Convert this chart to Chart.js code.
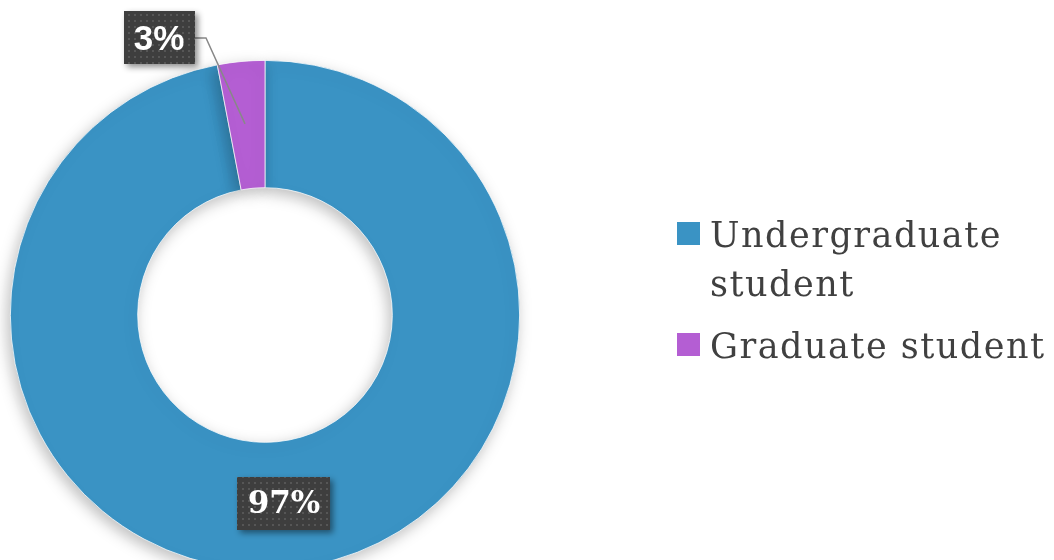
<!DOCTYPE html>
<html>
<head>
<meta charset="utf-8">
<script src="https://cdn.jsdelivr.net/npm/chart.js@4/dist/chart.umd.min.js"></script>
<style>
  html, body { margin: 0; padding: 0; background: #fff; overflow: hidden; }
  #wrap { position: relative; width: 1054px; height: 560px; overflow: hidden; }
  #chart { position: absolute; left: 0; top: 0; }
</style>
</head>
<body>
<div id="wrap"><canvas id="chart" width="1054" height="620"></canvas></div>
<script>
// student type breakdown
const categories = ['Undergraduate student', 'Graduate student'];
const shares = [97, 3];
const sliceColors = ['#3A93C4', '#B45ED3'];

// dark dotted fill for the value boxes
function dotPattern(ctx) {
    const c = document.createElement('canvas');
    c.width = 6; c.height = 6;
    const g = c.getContext('2d');
    g.fillStyle = '#3e3e3e';
    g.fillRect(0, 0, 6, 6);
    g.fillStyle = '#565656';
    g.fillRect(2, 2, 2, 2);
    return ctx.createPattern(c, 'repeat');
}

// soft shadow under the ring
const ringShadow = {
    id: 'ringShadow',
    beforeDatasetsDraw(chart) {
        const ctx = chart.ctx;
        ctx.save();
        ctx.shadowColor = 'rgba(0,0,0,0.26)';
        ctx.shadowBlur = 15;
        ctx.shadowOffsetX = -3;
        ctx.shadowOffsetY = 5;
    },
    afterDatasetsDraw(chart) {
        chart.ctx.restore();
    }
};

// percentage boxes (+ leader line for the small slice)
const valueBoxes = {
    id: 'valueBoxes',
    afterDatasetsDraw(chart) {
        const ctx = chart.ctx;
        const arcs = chart.getDatasetMeta(0).data;
        const pattern = dotPattern(ctx);

        arcs.forEach((arc, i) => {
            const p = arc.tooltipPosition();
            const text = shares[i] + '%';
            let cx, cy, font;
            if (i === 0) {
                cx = p.x + 1; cy = p.y - 2;
                font = 'bold 31px "DejaVu Serif"';
            } else {
                cx = p.x - 88; cy = p.y - 87;
                font = 'bold 35px "Liberation Sans"';
            }
            ctx.save();
            ctx.font = font;
            const w = Math.round(ctx.measureText(text).width + 20);
            const h = 53;
            const x0 = Math.round(cx - w / 2), y0 = Math.round(cy - h / 2);

            if (i === 1) {
                ctx.strokeStyle = '#888';
                ctx.lineWidth = 1.5;
                ctx.beginPath();
                ctx.moveTo(p.x - 2, p.y - 1);
                ctx.lineTo(x0 + w + 11, cy);
                ctx.lineTo(x0 + w, cy);
                ctx.stroke();
            }

            ctx.shadowColor = 'rgba(0,0,0,0.45)';
            ctx.shadowBlur = 6;
            ctx.shadowOffsetX = 3;
            ctx.shadowOffsetY = 3;
            ctx.fillStyle = pattern;
            ctx.fillRect(x0, y0, w, h);
            ctx.shadowColor = 'transparent';

            ctx.fillStyle = '#fff';
            ctx.textAlign = 'center';
            ctx.textBaseline = 'middle';
            ctx.fillText(text, cx, cy + 2);
            ctx.restore();
        });
    }
};

// legend on the right, wrapped like the slide
const sideLegend = {
    id: 'sideLegend',
    afterDraw(chart) {
        const ctx = chart.ctx;
        const x = 677, size = 23, textX = 710, maxW = 345, lineH = 49;
        let baseline = 247;
        ctx.save();
        ctx.font = '35px "DejaVu Serif"';
        ctx.letterSpacing = '1.5px';
        ctx.textBaseline = 'alphabetic';
        chart.data.labels.forEach((label, i) => {
            // simple word wrap
            const words = label.split(' ');
            const lines = [];
            let cur = '';
            words.forEach(wd => {
                const test = cur ? cur + ' ' + wd : wd;
                if (cur && ctx.measureText(test).width > maxW) {
                    lines.push(cur);
                    cur = wd;
                } else {
                    cur = test;
                }
            });
            lines.push(cur);

            ctx.fillStyle = chart.data.datasets[0].backgroundColor[i];
            ctx.fillRect(x, baseline - 25, size, size);
            ctx.fillStyle = '#404040';
            lines.forEach((ln, k) => ctx.fillText(ln, textX, baseline + k * lineH));
            baseline += (lines.length - 1) * lineH + 62;
        });
        ctx.restore();
    }
};

new Chart(document.getElementById('chart'), {
    type: 'doughnut',
    data: {
        labels: categories,
        datasets: [{
            data: shares,
            backgroundColor: sliceColors,
            borderColor: '#ffffff',
            borderWidth: 0.75
        }]
    },
    options: {
        responsive: false,
        animation: false,
        cutout: '50%',
        layout: { padding: { left: 10, top: 60, right: 534, bottom: 50 } },
        plugins: {
            legend: { display: false },
            tooltip: { enabled: false }
        }
    },
    plugins: [ringShadow, valueBoxes, sideLegend]
});
</script>
</body>
</html>
